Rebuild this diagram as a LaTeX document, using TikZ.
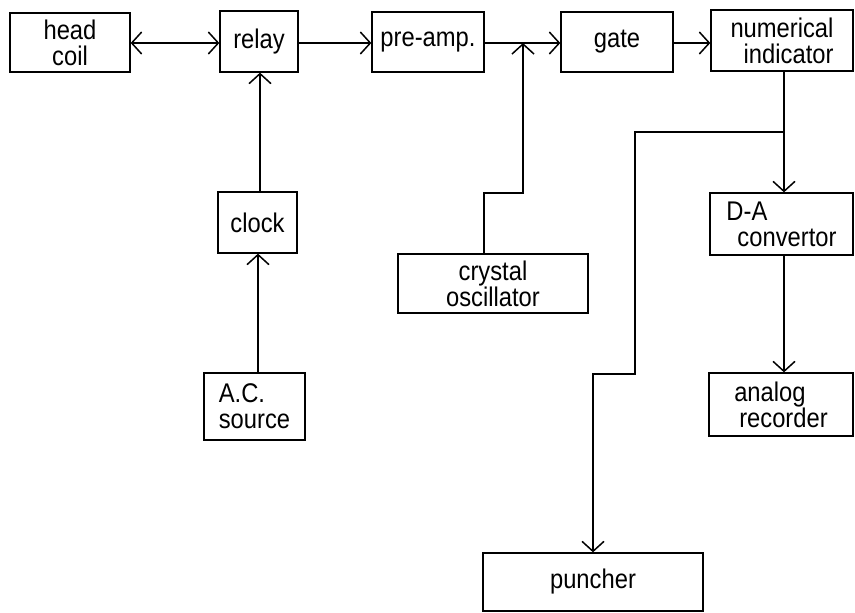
\documentclass[tikz,border=0pt]{standalone}
\usepackage{fontspec}
\setmainfont{Liberation Sans}[FakeStretch=0.88]
\usetikzlibrary{arrows.meta}
\begin{document}
\begin{tikzpicture}[x=1pt,y=-1pt,
  blk/.style={draw, line width=1.3pt, inner sep=0pt, font=\fontsize{27}{26}\selectfont},
  conn/.style={line width=1.5pt},
  arr/.style={conn, -{Straight Barb[length=10pt,width=22pt,line width=1.5pt]}},
  barr/.style={conn, {Straight Barb[length=10pt,width=22pt,line width=1.5pt]}-{Straight Barb[length=10pt,width=22pt,line width=1.5pt]}}]
\useasboundingbox (0,0) rectangle (855,613);
% boxes
\node[blk, minimum width=120pt, minimum height=59pt, align=center] (head) at (70,42.5) {head\\coil};
\node[blk, minimum width=78pt, minimum height=61pt] (relay) at (259,41.5) {relay};
\node[blk, minimum width=112pt, minimum height=60pt] (preamp) at (428,42) {pre-amp.};
\node[blk, minimum width=112pt, minimum height=60pt] (gate) at (617,42) {gate};
\node[blk, minimum width=142pt, minimum height=61pt, align=right] (numind) at (782,40.5) {numerical\\indicator};
\node[blk, minimum width=79pt, minimum height=61pt] (clock) at (257.5,222.5) {clock};
\node[blk, minimum width=190pt, minimum height=59pt, align=center] (crystal) at (493,283.5) {crystal\\oscillator};
\node[blk, minimum width=101pt, minimum height=67pt, align=left] (ac) at (254.5,406.5) {A.C.\\source};
\node[blk, minimum width=143pt, minimum height=62pt, align=left] (da) at (781.5,224) {D-A\\\hspace*{11pt}convertor};
\node[blk, minimum width=144pt, minimum height=63pt, align=left] (analog) at (781,404.5) {analog\\\hspace*{5pt}recorder};
\node[blk, minimum width=220pt, minimum height=58pt] (puncher) at (593,582) {puncher};
% junctions
\coordinate (J) at (523,43);
\coordinate (C1) at (484,193);
\coordinate (K) at (784,132);
\coordinate (P2) at (635,374);
\coordinate (R) at (260,0);
\coordinate (A) at (258,0);
% connectors
\draw[barr] (head.east |- J) -- (relay.west |- J);
\draw[arr] (relay.east |- J) -- (preamp.west |- J);
\draw[arr] (preamp.east |- J) -- (gate.west |- J);
\draw[arr] (gate.east |- J) -- (numind.west |- J);
\draw[arr] (clock.north -| R) -- (relay.south -| R);
\draw[arr] (ac.north -| A) -- (clock.south -| A);
\draw[arr] (crystal.north -| C1) -- (C1) -| (J);
\draw[arr] (numind.south -| K) -- (da.north -| K);
\draw[arr] (K) -| (P2) -| (puncher.north);
\draw[arr] (da.south -| K) -- (analog.north -| K);
\end{tikzpicture}
\end{document}
